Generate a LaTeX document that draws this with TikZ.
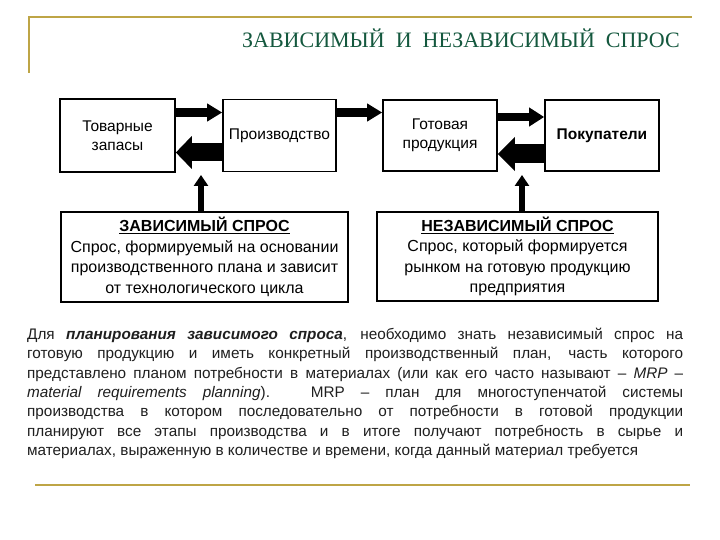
\documentclass[tikz,border=0pt]{standalone}
\usepackage{fontspec}
\setmainfont{Liberation Sans}
\newfontfamily\titlefont{Liberation Serif}
\usetikzlibrary{arrows.meta}
\definecolor{goldline}{RGB}{190,165,70}
\definecolor{titlegreen}{RGB}{20,88,62}
\begin{document}
\begin{tikzpicture}[x=1pt,y=-1pt,
  box/.style={draw=black,line width=1.6pt,inner sep=0pt,align=center,font=\fontsize{15.5}{19.5}\selectfont},
  ]
\useasboundingbox[fill=white] (0,0) rectangle (720,540);
% gold frame lines
\draw[goldline,line width=2pt] (29,73) -- (29,17) -- (692,17);
\draw[goldline,line width=2pt] (35,485) -- (690,485);
% title
\node[font=\titlefont\fontsize{22}{24}\selectfont,text=titlegreen,inner sep=0pt] (title) at (461,38) {ЗАВИСИМЫЙ\ \ И\ \ НЕЗАВИСИМЫЙ\ \ СПРОС};
% top boxes
\node[box,minimum width=115pt,minimum height=73pt] (b1) at (117.5,135.5) {Товарные\\запасы};
\node[box,minimum width=113pt,minimum height=72pt] (b2) at (279.5,135.5) {Производство};
\node[box,minimum width=114pt,minimum height=71pt] (b3) at (440,135.5) {Готовая\\продукция};
\node[box,minimum width=114pt,minimum height=71pt] (b4) at (602,135.5) {\textbf{Покупатели}};
% bottom boxes
\node[box,minimum width=287pt,minimum height=90pt,font=\fontsize{16}{20.5}\selectfont] (dep) at (204.5,257) {\underline{\textbf{ЗАВИСИМЫЙ СПРОС}}\\Спрос, формируемый на основании\\производственного плана и зависит\\от технологического цикла};
\node[box,minimum width=281pt,minimum height=89pt,font=\fontsize{16}{20.5}\selectfont] (ind) at (517.5,256.5) {\underline{\textbf{НЕЗАВИСИМЫЙ СПРОС}}\\Спрос, который формируется\\рынком на готовую продукцию\\предприятия};
% arrows
\draw[line width=9pt,-{Triangle[length=15pt,width=17pt]}] ([yshift=23pt]b1.east) -- ([yshift=23pt]b2.west);
\draw[line width=9pt,-{Triangle[length=15pt,width=17pt]}] ([yshift=23pt]b2.east) -- ([yshift=23pt]b3.west);
\draw[line width=8pt,-{Triangle[length=15pt,width=18pt]}] ([yshift=18.5pt]b3.east) -- ([yshift=18.5pt]b4.west);
\draw[line width=18pt,-{Triangle[length=16pt,width=32pt]}] ([yshift=-17pt]b2.west) -- ([yshift=-17pt]b1.east);
\draw[line width=19pt,-{Triangle[length=17pt,width=33pt]}] ([yshift=-18.5pt]b4.west) -- ([yshift=-18.5pt]b3.east);
\coordinate (u1) at (201,175);
\coordinate (u2) at (522,175);
\draw[line width=6pt,-{Triangle[length=11pt,width=14pt]}] (dep.north -| u1) -- (u1);
\draw[line width=6pt,-{Triangle[length=11pt,width=14pt]}] (ind.north -| u2) -- (u2);
% paragraph
\node[anchor=north west,inner sep=0pt,align=left,text=black!88,font=\fontsize{15.3}{19.3}\selectfont] (para) at (27,328) {%
\makebox[656pt][s]{Для \textbf{\textit{планирования зависимого спроса}}, необходимо знать независимый спрос на}\\
\makebox[656pt][s]{готовую продукцию и иметь конкретный производственный план, часть которого}\\
\makebox[656pt][s]{представлено планом потребности в материалах (или как его часто называют – \textit{MRP} –}\\
\makebox[656pt][s]{\textit{material requirements planning}). MRP – план для многоступенчатой системы}\\
\makebox[656pt][s]{производства в котором последовательно от потребности в готовой продукции}\\
\makebox[656pt][s]{планируют все этапы производства и в итоге получают потребность в сырье и}\\
материалах, выраженную в количестве и времени, когда данный материал требуется};
\end{tikzpicture}
\end{document}
